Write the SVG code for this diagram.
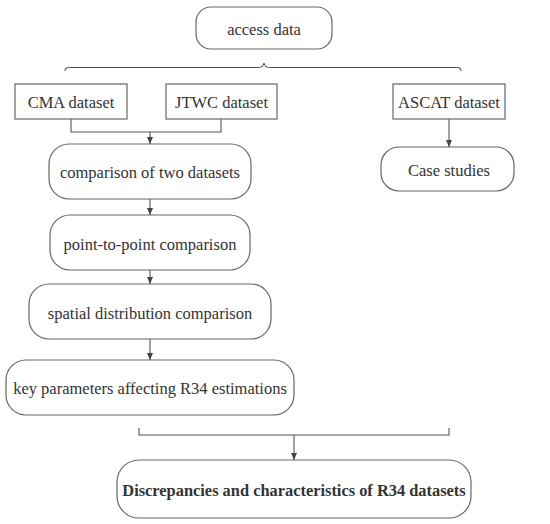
<svg xmlns="http://www.w3.org/2000/svg" width="550" height="524" viewBox="0 0 550 524">
<style>
.box{fill:#fff;stroke:#666;stroke-width:1.2}
.t{font-family:"Liberation Serif",serif;font-size:16.5px;fill:#333;text-anchor:middle;dominant-baseline:central}
.b{font-weight:bold;font-size:16.4px}
.c{fill:none;stroke:#555;stroke-width:1.1}
</style>
<defs>
<marker id="ah" markerWidth="8" markerHeight="8" refX="7" refY="4" orient="auto" markerUnits="userSpaceOnUse">
<path d="M0,1 L7,4 L0,7 Z" fill="#444"/>
</marker>
</defs>
<rect width="550" height="524" fill="#fff"/>
<g id="connectors">
<path class="c" d="M65,71 Q65,67.5 69,67.5 L259,67.5 Q263,67.5 264,63 Q265,67.5 269,67.5 L457,67.5 Q461,67.5 461,71"/>
<path class="c" d="M71,119 L71,132 L221,132 L221,119"/>
<path class="c" d="M150,132 L150,144" marker-end="url(#ah)"/>
<path class="c" d="M449,119 L449,147" marker-end="url(#ah)"/>
<path class="c" d="M150,199 L150,215" marker-end="url(#ah)"/>
<path class="c" d="M150,270 L150,284" marker-end="url(#ah)"/>
<path class="c" d="M150,339 L150,360" marker-end="url(#ah)"/>
<path class="c" d="M139,428 L139,435 L449,435 L449,428"/>
<path class="c" d="M294,435 L294,460" marker-end="url(#ah)"/>
</g>
<g id="access"><rect class="box" x="196" y="7" width="136" height="42" rx="15"/><text class="t" x="264" y="29">access data</text></g>
<g id="cma"><rect class="box" x="15" y="84" width="112" height="35"/><text class="t" x="71" y="102">CMA dataset</text></g>
<g id="jtwc"><rect class="box" x="166" y="84" width="111" height="35"/><text class="t" x="221.5" y="102">JTWC dataset</text></g>
<g id="ascat"><rect class="box" x="393" y="84" width="112" height="35"/><text class="t" x="449" y="102">ASCAT dataset</text></g>
<g id="case"><rect class="box" x="381" y="147" width="133" height="44" rx="18"/><text class="t" x="449" y="170">Case studies</text></g>
<g id="comparison"><rect class="box" x="49" y="144" width="202" height="55" rx="20"/><text class="t" x="150" y="172">comparison of two datasets</text></g>
<g id="p2p"><rect class="box" x="50" y="215" width="200" height="55" rx="20"/><text class="t" x="150" y="244">point-to-point comparison</text></g>
<g id="spatial"><rect class="box" x="29" y="284" width="242" height="55" rx="20"/><text class="t" x="150" y="313">spatial distribution comparison</text></g>
<g id="key"><rect class="box" x="6" y="360" width="288" height="55" rx="20"/><text class="t" x="150" y="388">key parameters affecting R34 estimations</text></g>
<g id="disc"><rect class="box" x="117" y="460" width="354" height="58" rx="22"/><text class="t b" x="294" y="490">Discrepancies and characteristics of R34 datasets</text></g>
</svg>
